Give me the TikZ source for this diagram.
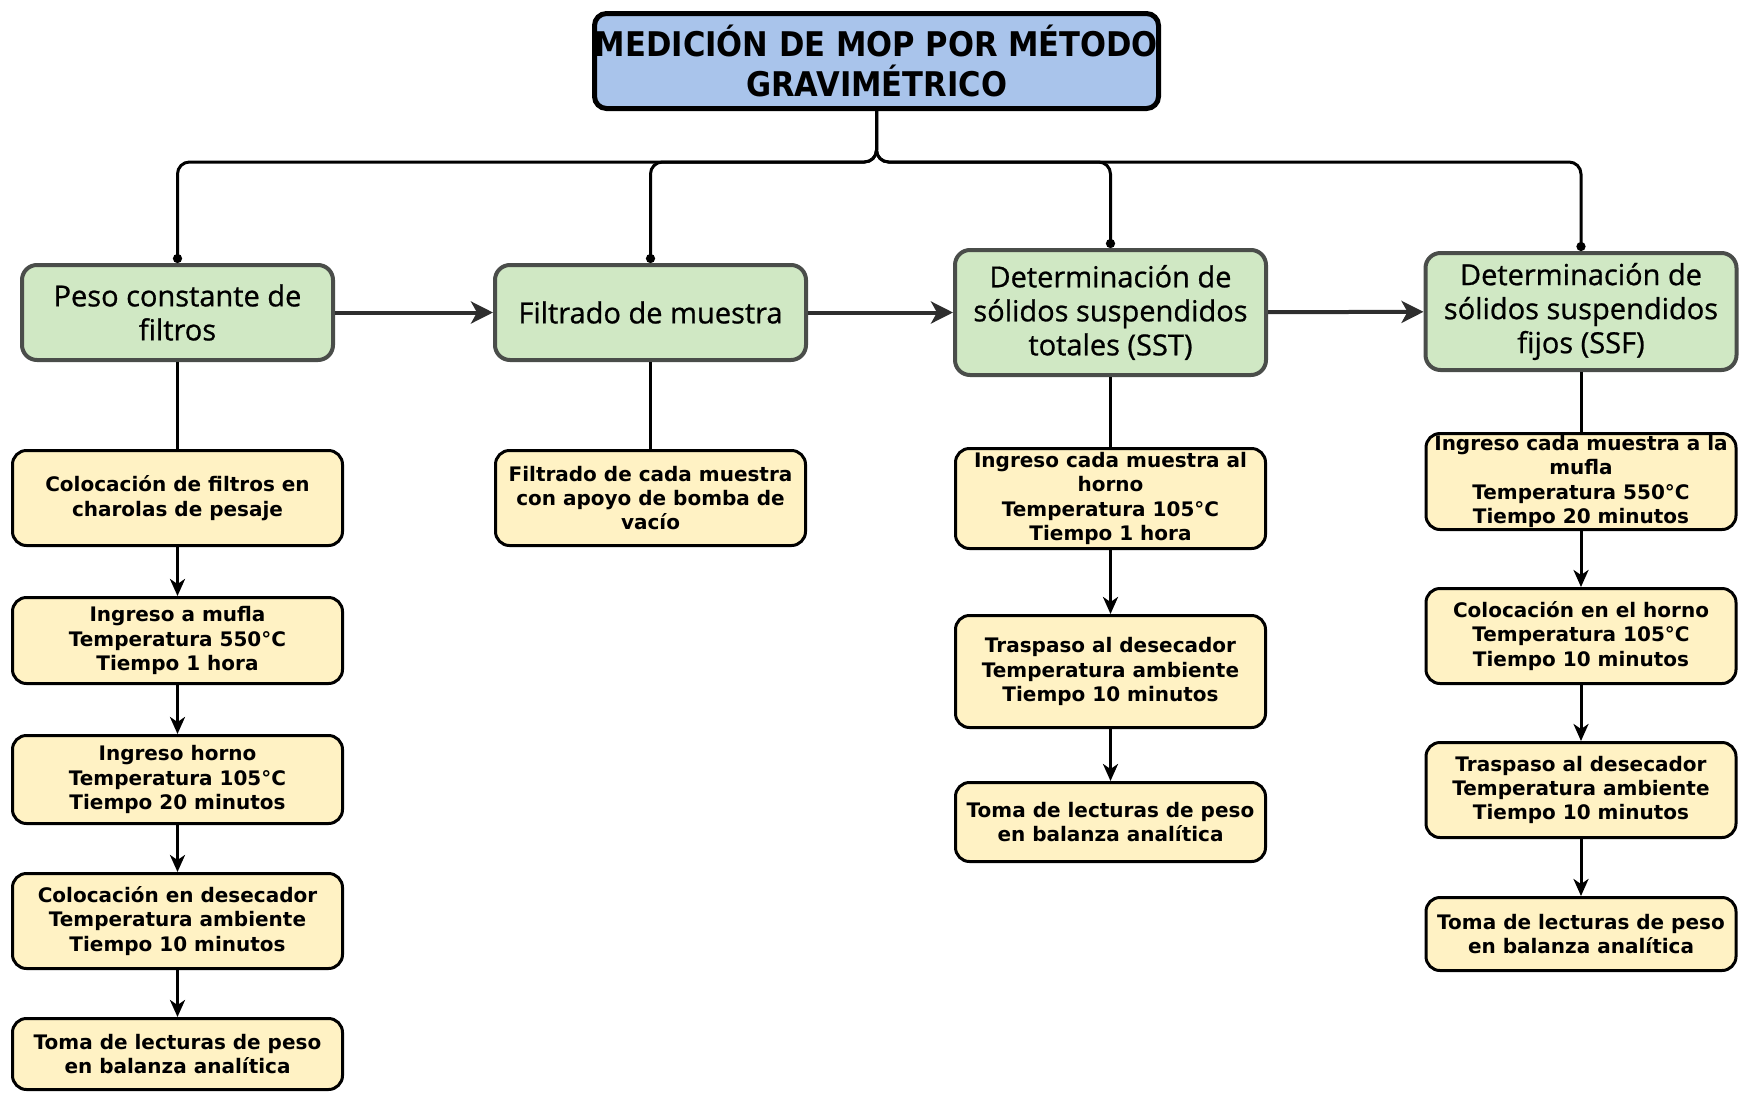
\documentclass[tikz,border=0pt]{standalone}
\usepackage{fontspec}
\setmainfont{DejaVu Sans}
\newfontfamily\headfont{DejaVu Sans}[FakeStretch=0.9]
\newfontfamily\stagefont{Open Sans}[FakeBold=0.8]
\newfontfamily\stepfont{DejaVu Sans}
\usetikzlibrary{arrows.meta}
\definecolor{titleblue}{HTML}{A9C4EB}
\definecolor{stagegreen}{HTML}{D0E8C4}
\definecolor{stagegray}{HTML}{4A4D4A}
\definecolor{stepyellow}{HTML}{FFF2C4}
\definecolor{flowgray}{HTML}{2E2E2E}
\begin{document}
\begin{tikzpicture}[x=1pt,y=-1pt,
  titlebox/.style={draw=black, line width=5pt, fill=titleblue, rounded corners=12pt,
    minimum width=564pt, minimum height=95pt, align=center, inner sep=0pt,
    font=\headfont\bfseries\fontsize{34}{40}\selectfont},
  stage/.style={draw=stagegray, line width=4pt, fill=stagegreen, rounded corners=15pt,
    minimum width=311pt, align=center, inner sep=0pt,
    font=\stagefont\fontsize{29}{34}\selectfont},
  stepbox/.style={draw=black, line width=3pt, fill=stepyellow, rounded corners=14pt,
    minimum width=310pt, align=center, inner sep=0pt,
    font=\stepfont\bfseries\fontsize{20}{24.4}\selectfont},
  tree/.style={draw=black, line width=3pt, rounded corners=12pt, -{Circle[length=9pt]}},
  flow/.style={draw=flowgray, line width=4pt, -{Stealth[length=22pt,width=22pt,inset=6pt]}},
  link/.style={draw=black, line width=3pt},
  down/.style={draw=black, line width=3pt, -{Stealth[length=17pt,width=15pt,inset=5pt]}},
]
\useasboundingbox (0,0) rectangle (1741,1093);

% heading
\node[titlebox] (top) at (876.5,61) {MEDICIÓN DE MOP POR MÉTODO\\GRAVIMÉTRICO};

% main stages
\node[stage, minimum height=95pt] (g1) at (177.5,312.5) {Peso constante de\\filtros};
\node[stage, minimum height=95pt] (g2) at (650.5,312.5) {Filtrado de muestra};
\node[stage, minimum height=125pt] (g3) at (1110.5,312.5) {Determinación de\\sólidos suspendidos\\totales (SST)};
\node[stage, minimum height=117pt] (g4) at (1581,311.5) {Determinación de\\sólidos suspendidos\\fijos (SSF)};

% steps: filter weighing
\node[stepbox, minimum width=330pt, minimum height=95pt] (a1) at (177.5,498) {Colocación de filtros en\\charolas de pesaje};
\node[stepbox, minimum width=330pt, minimum height=86pt] (a2) at (177.5,640.5) {Ingreso a mufla\\Temperatura 550°C\\Tiempo 1 hora};
\node[stepbox, minimum width=330pt, minimum height=88pt] (a3) at (177.5,779.5) {Ingreso horno\\Temperatura 105°C\\Tiempo 20 minutos};
\node[stepbox, minimum width=330pt, minimum height=95pt] (a4) at (177.5,921) {Colocación en desecador\\Temperatura ambiente\\Tiempo 10 minutos};
\node[stepbox, minimum width=330pt, minimum height=71pt] (a5) at (177.5,1054) {Toma de lecturas de peso\\en balanza analítica};

% steps: filtration
\node[stepbox, minimum height=95pt] (b1) at (650.5,498) {Filtrado de cada muestra\\con apoyo de bomba de\\vacío};

% steps: SST
\node[stepbox, minimum height=100pt] (c1) at (1110.5,498.5) {Ingreso cada muestra al\\horno\\Temperatura 105°C\\Tiempo 1 hora};
\node[stepbox, minimum height=112pt] (c2) at (1110.5,671.5) {Traspaso al desecador\\Temperatura ambiente\\Tiempo 10 minutos};
\node[stepbox, minimum height=79pt] (c3) at (1110.5,822) {Toma de lecturas de peso\\en balanza analítica};

% steps: SSF
\node[stepbox, minimum height=96pt] (d1) at (1581,481.5) {Ingreso cada muestra a la\\mufla\\Temperatura 550°C\\Tiempo 20 minutos};
\node[stepbox, minimum height=95pt] (d2) at (1581,636) {Colocación en el horno\\Temperatura 105°C\\Tiempo 10 minutos};
\node[stepbox, minimum height=95pt] (d3) at (1581,790) {Traspaso al desecador\\Temperatura ambiente\\Tiempo 10 minutos};
\node[stepbox, minimum height=73pt] (d4) at (1581,934) {Toma de lecturas de peso\\en balanza analítica};

% branches from the heading
\coordinate (split) at (876.5,162);
\draw[tree] (top.south) -- (split) -| (g1.north);
\draw[tree] (top.south) -- (split) -| (g2.north);
\draw[tree] (top.south) -- (split) -| (g3.north);
\draw[tree] (top.south) -- (split) -| (g4.north);

% sequence of stages
\draw[flow] (g1) -- (g2);
\draw[flow] (g2) -- (g3);
\draw[flow] (g3) -- (g4);

% stage to first step
\draw[link] (g1) -- (a1);
\draw[link] (g2) -- (b1);
\draw[link] (g3) -- (c1);
\draw[link] (g4) -- (d1);

% step sequences
\draw[down] (a1) -- (a2);
\draw[down] (a2) -- (a3);
\draw[down] (a3) -- (a4);
\draw[down] (a4) -- (a5);
\draw[down] (c1) -- (c2);
\draw[down] (c2) -- (c3);
\draw[down] (d1) -- (d2);
\draw[down] (d2) -- (d3);
\draw[down] (d3) -- (d4);
\end{tikzpicture}
\end{document}
